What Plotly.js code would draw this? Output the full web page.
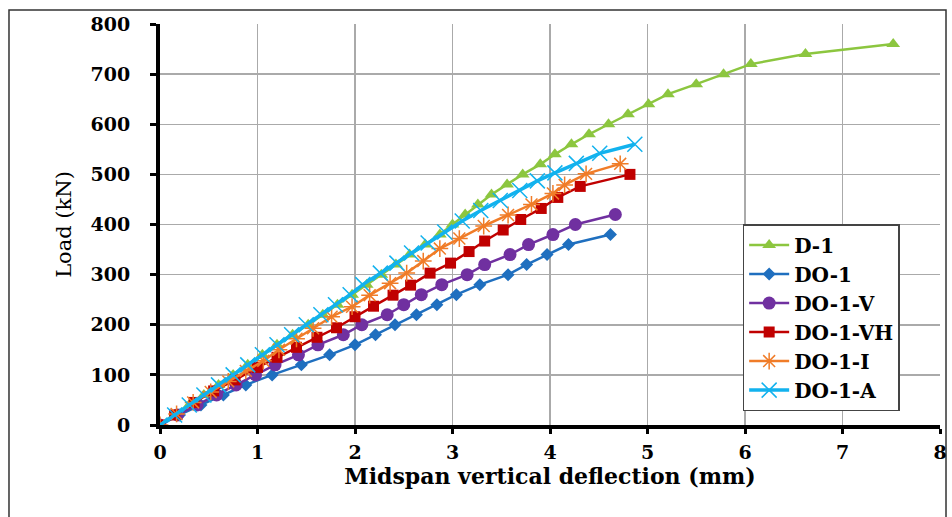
<!DOCTYPE html>
<html>
<head>
<meta charset="utf-8">
<script src="https://cdn.plot.ly/plotly-3.0.1.min.js"></script>
<style>html,body{margin:0;padding:0;background:#fff;}#chart{width:952px;height:517px;}</style>
</head>
<body>
<div id="chart"></div>
<script>
// ---- Data (deflection in mm, load in kN) ----
const seriesNames = ["D-1", "DO-1", "DO-1-V", "DO-1-VH", "DO-1-I", "DO-1-A"];

const d1_x = [0, 0.15, 0.30, 0.45, 0.60, 0.75, 0.90, 1.05, 1.20, 1.36, 1.52, 1.67, 1.82, 1.97, 2.12, 2.27, 2.42, 2.56, 2.72, 2.87, 3.00, 3.13, 3.26, 3.40, 3.56, 3.72, 3.90, 4.05, 4.22, 4.40, 4.60, 4.80, 5.01, 5.21, 5.50, 5.78, 6.06, 6.62, 7.52];
const d1_y = [0, 20, 40, 60, 80, 100, 120, 140, 160, 180, 200, 220, 240, 260, 280, 300, 320, 340, 360, 380, 400, 420, 440, 460, 480, 500, 520, 540, 560, 580, 600, 620, 640, 660, 680, 700, 720, 740, 760];

const do1_x = [0, 0.20, 0.42, 0.65, 0.88, 1.15, 1.45, 1.74, 2.00, 2.21, 2.41, 2.63, 2.84, 3.04, 3.28, 3.57, 3.76, 3.97, 4.19, 4.62];
const do1_y = [0, 20, 40, 60, 80, 100, 120, 140, 160, 180, 200, 220, 240, 260, 280, 300, 320, 340, 360, 380];

const do1v_x = [0, 0.18, 0.38, 0.58, 0.78, 0.98, 1.18, 1.42, 1.62, 1.88, 2.07, 2.33, 2.50, 2.68, 2.89, 3.15, 3.33, 3.59, 3.78, 4.03, 4.26, 4.67];
const do1v_y = [0, 20, 40, 60, 80, 100, 120, 140, 160, 180, 200, 220, 240, 260, 280, 300, 320, 340, 360, 380, 400, 420];

const do1vh_x = [0, 0.15, 0.35, 0.55, 0.77, 1.00, 1.20, 1.40, 1.61, 1.81, 2.00, 2.19, 2.39, 2.57, 2.77, 2.98, 3.17, 3.33, 3.52, 3.70, 3.91, 4.08, 4.31, 4.82];
const do1vh_y = [0, 20, 45, 68, 90, 115, 135, 155, 175, 194, 216, 237, 259, 279, 303, 323, 346, 367, 389, 410, 432, 454, 476, 500];

const do1i_x = [0, 0.17, 0.34, 0.52, 0.70, 0.88, 1.06, 1.22, 1.40, 1.57, 1.76, 1.97, 2.15, 2.36, 2.53, 2.70, 2.87, 3.07, 3.32, 3.57, 3.81, 4.03, 4.15, 4.37, 4.72];
const do1i_y = [0, 22, 45, 66, 87, 108, 128, 150, 172, 193, 216, 236, 259, 283, 303, 327, 352, 372, 397, 419, 440, 462, 479, 501, 521];

const do1a_x = [0, 0.15, 0.30, 0.45, 0.60, 0.75, 0.90, 1.05, 1.20, 1.35, 1.50, 1.65, 1.80, 1.95, 2.08, 2.26, 2.43, 2.58, 2.75, 2.92, 3.10, 3.29, 3.49, 3.69, 3.87, 4.05, 4.27, 4.51, 4.87];
const do1a_y = [0, 20, 40, 60, 80, 100, 120, 140, 160, 180, 200, 220, 240, 260, 280, 303, 323, 343, 363, 385, 407, 428, 448, 468, 487, 503, 522, 542, 560];

const xTicks = [0, 1, 2, 3, 4, 5, 6, 7, 8];
const yTicks = [0, 100, 200, 300, 400, 500, 600, 700, 800];

// ---- Styles ----
const colors = ["#8CC63F", "#1F6FBF", "#7030A0", "#C00000", "#F07C28", "#12B2EE"];
const symbols = ["triangle-up", "diamond", "circle", "square", "asterisk-open", "x-thin-open"];
const msizes = [12, 10, 13, 11, 14, 15];
const lwidths = [2.5, 2.5, 2.5, 2.5, 2.5, 3.5];
const xs = [d1_x, do1_x, do1v_x, do1vh_x, do1i_x, do1a_x];
const ys = [d1_y, do1_y, do1v_y, do1vh_y, do1i_y, do1a_y];

const traces = seriesNames.map((n, i) => ({
  type: "scatter", mode: "lines+markers", name: n,
  x: xs[i], y: ys[i],
  line: {color: colors[i], width: lwidths[i]},
  marker: {symbol: symbols[i], size: msizes[i], color: colors[i],
           line: {color: colors[i], width: (i >= 4 ? 1.5 : 0)}}
}));

const serif = "DejaVu Serif, Liberation Serif, serif";
const layout = {
  width: 952, height: 517,
  margin: {l: 160, r: 12, t: 24, b: 92},
  paper_bgcolor: "#fff", plot_bgcolor: "#fff",
  showlegend: true,
  legend: {
    x: 0.747, y: 0.501, xanchor: "left", yanchor: "top",
    bgcolor: "#fff", bordercolor: "#444", borderwidth: 1.5,
    font: {family: serif, size: 20, color: "#000", weight: "bold"},
    traceorder: "normal", itemwidth: 40
  },
  xaxis: {
    range: [0, 8], tickvals: xTicks, ticktext: xTicks.map(String),
    showline: true, linecolor: "#000", linewidth: 4,
    ticks: "outside", ticklen: 5, tickwidth: 3, tickcolor: "#000",
    showgrid: true, gridcolor: "#aaaaaa", gridwidth: 1.5, zeroline: false,
    tickfont: {family: serif, size: 19, color: "#000", weight: "bold"},
    ticklabelstandoff: 2,
    title: {text: "Midspan vertical deflection (mm)", standoff: 6,
            font: {family: serif, size: 22, color: "#000", weight: "bold"}}
  },
  yaxis: {
    range: [0, 800], tickvals: yTicks, ticktext: yTicks.map(String),
    showline: true, linecolor: "#000", linewidth: 4,
    ticks: "outside", ticklen: 6, tickwidth: 3, tickcolor: "#000",
    showgrid: true, gridcolor: "#aaaaaa", gridwidth: 1.5, zeroline: false,
    tickfont: {family: serif, size: 19, color: "#000", weight: "bold"},
    ticklabelstandoff: 16,
    title: {text: "Load (kN)", standoff: 14,
            font: {family: serif, size: 21, color: "#000"}}
  },
  shapes: [{
    type: "rect", xref: "paper", yref: "paper",
    x0: -0.1936, x1: 1.0077, y0: -0.26, y1: 1.035,
    line: {color: "#333", width: 1.5}, fillcolor: "rgba(0,0,0,0)", layer: "below"
  }]
};

Plotly.newPlot("chart", traces, layout, {displayModeBar: false, staticPlot: true});
</script>
</body>
</html>
